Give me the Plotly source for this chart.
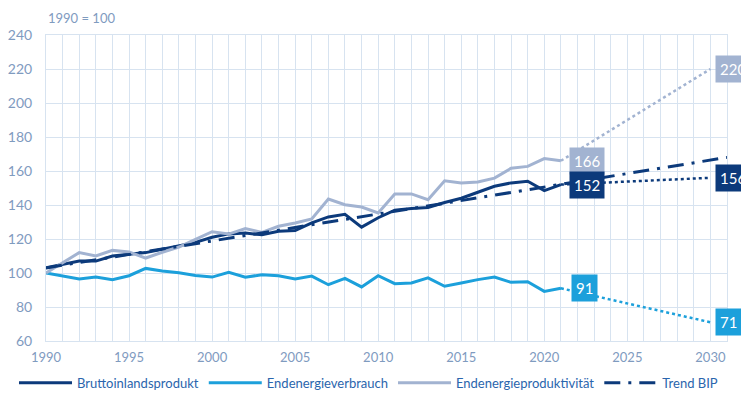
import plotly.graph_objects as go

years = list(range(1990, 2022))

# Bruttoinlandsprodukt (1990 = 100)
bip = [103, 105, 107, 107, 110, 111, 112, 114, 116, 118, 121, 123, 123.5, 122.5, 124.5, 125,
       129.5, 133, 134.5, 127, 132.5, 137, 138, 138.5, 141.5, 144, 147.5, 151, 153, 154, 148.5, 152]
# Endenergieverbrauch
eev = [100, 98.4, 96.5, 97.6, 96.1, 98.4, 102.7, 101.2, 100.2, 98.5, 97.6, 100.4, 97.5, 99, 98.4, 96.5,
       98.2, 93.1, 96.8, 91.8, 98.4, 93.7, 94.1, 97.1, 92.2, 94.1, 96.1, 97.6, 94.5, 94.9, 89.2, 91]
# Endenergieproduktivität
eep = [100, 106, 112, 110, 113.3, 112.4, 108.8, 112.2, 115.3, 119.8, 124.3, 122.9, 126.1, 123.9, 127.5, 129.4,
       131.8, 143.5, 140.2, 138.8, 135.3, 146.5, 146.5, 143.1, 154.2, 153, 153.5, 155.8, 161.6, 162.7, 167.3, 166]

# Zielpfade bis 2030
proj_years = [2021, 2030]
bip_proj = [152, 156]
eev_proj = [91, 71]
eep_proj = [166, 220]

# Trend BIP
trend_years = [1990, 2031]
trend_vals = [103, 168]

c_bip = "#0c3a7b"
c_eev = "#1ca0db"
c_eep = "#a2b3d1"
c_grid = "#d7e3f0"
c_tick = "#7f9bbf"
c_legend = "#2a65ad"

fig = go.Figure()

fig.add_trace(go.Scatter(x=proj_years, y=eep_proj, mode="lines", showlegend=False,
                         line=dict(color=c_eep, width=2.5, dash="dot")))
fig.add_trace(go.Scatter(x=proj_years, y=bip_proj, mode="lines", showlegend=False,
                         line=dict(color=c_bip, width=2.5, dash="dot")))
fig.add_trace(go.Scatter(x=proj_years, y=eev_proj, mode="lines", showlegend=False,
                         line=dict(color=c_eev, width=2.5, dash="dot")))

fig.add_trace(go.Scatter(x=years, y=bip, mode="lines", name="Bruttoinlandsprodukt",
                         line=dict(color=c_bip, width=3)))
fig.add_trace(go.Scatter(x=years, y=eev, mode="lines", name="Endenergieverbrauch",
                         line=dict(color=c_eev, width=3)))
fig.add_trace(go.Scatter(x=years, y=eep, mode="lines", name="Endenergieproduktivität",
                         line=dict(color=c_eep, width=3)))
fig.add_trace(go.Scatter(x=trend_years, y=trend_vals, mode="lines", name="Trend BIP",
                         line=dict(color=c_bip, width=3, dash="16px,8px,3px,8px")))

# value labels
labels = [
    (2022.6, 166, "166", c_eep),
    (2022.6, 152, "152", c_bip),
    (2022.4, 91, "91", c_eev),
]
for x, y, t, c in labels:
    fig.add_annotation(x=x, y=y, text=t, showarrow=False, bgcolor=c, borderpad=4,
                       font=dict(color="white", size=15))
for y, t, c in [(220, "220", c_eep), (156, "156", c_bip), (71, "71", c_eev)]:
    fig.add_annotation(x=2030.3, y=y, text=t, showarrow=False, xanchor="left", bgcolor=c,
                       borderpad=4, font=dict(color="white", size=15))

fig.add_annotation(x=0, y=1.022, xref="paper", yref="paper", text="1990 = 100", showarrow=False,
                   xanchor="left", yanchor="bottom", font=dict(color=c_tick, size=13))

fig.update_xaxes(range=[1990, 2031], dtick=5, tick0=1990, showgrid=True, gridcolor=c_grid,
                 minor=dict(dtick=1, showgrid=True, gridcolor=c_grid),
                 showline=True, linecolor=c_grid, mirror=True, zeroline=False, automargin=False,
                 tickfont=dict(color=c_tick, size=13), ticklabelstandoff=4)
fig.update_yaxes(range=[60, 240], dtick=20, showgrid=True, gridcolor=c_grid,
                 showline=True, linecolor=c_grid, mirror=True, zeroline=False, automargin=False,
                 tickfont=dict(color=c_tick, size=14), ticklabelstandoff=10)

# the page body adds 8px on the left and top
fig.update_layout(
    width=749, height=413,
    margin=dict(l=38, r=30, t=27, b=80, autoexpand=False),
    paper_bgcolor="white", plot_bgcolor="white",
    font=dict(family="Lato, sans-serif"),
    legend=dict(orientation="h", x=-0.047, xanchor="left", y=-0.137, yanchor="middle",
                itemwidth=53, font=dict(color=c_legend, size=13)),
)

fig.write_html("out.html")
